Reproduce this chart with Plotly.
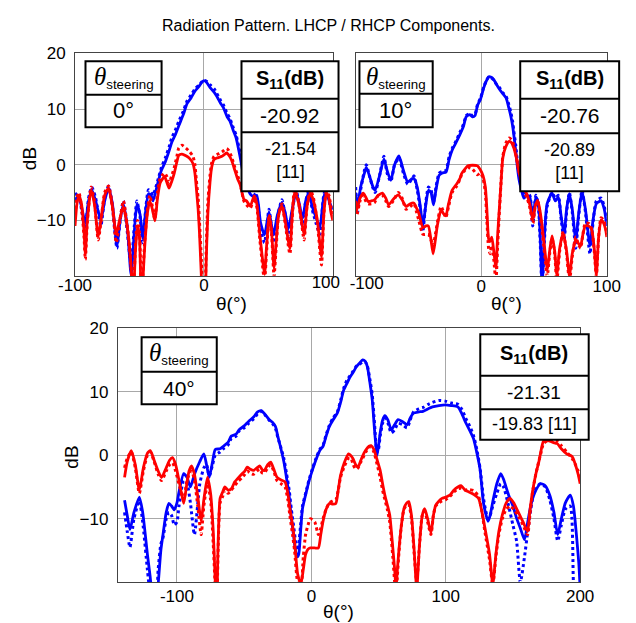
import plotly.graph_objects as go

# ---------------- data ----------------
# Panel 1 : steering 0 deg
p1_blue_theta = [-100, -97.5, -95, -92, -89.5, -87, -84, -80, -77, -74, -71, -67.5, -65, -62.5, -59.5, -56.5, -54, -52,
                 -49.5, -47.5, -45, -43, -41, -39.5, -36, -33, -30, -27, -25, -22, -19.5, -16, -13, -10, -7, -4, -2, 0,
                 2, 5, 8, 10, 13, 15, 18, 20, 23, 25, 28, 30, 33, 36, 39, 41, 44, 47, 50.5, 54, 57, 60.5, 63, 65.5,
                 68.5, 71.5, 74, 76.5, 79, 81.5, 84, 87, 90, 93.5, 96, 98.5, 100]
p1_blue_solid = [-6.5, -5.5, -7.5, -10.5, -6.5, -4.5, -6.5, -10, -6.5, -4.2, -7, -14.5, -10, -7.1, -11, -19.8, -12, -7.1,
                 -9, -13, -8, -5.2, -5.5, -6.5, -3.5, -1, 0.5, 2.5, 4, 5.5, 7, 9, 11, 12, 13.2, 14, 14.7, 15.1,
                 14.8, 13.8, 13, 12.3, 11, 10.3, 8.6, 7.9, 6, 4.8, 1.5, -1, -3.5, -5.3, -5.8, -5.5, -10.5, -12.6, -8.5,
                 -12.6, -9, -6.8, -8.5, -11.5, -8, -5, -7, -9.7, -6.5, -5, -7.5, -9.5, -11.2, -5.3, -5.8, -7.4, -8]
p1_blue_dot = [-5.5, -5, -8, -11.5, -6, -4, -6, -11, -6, -3.8, -7.5, -15, -10, -6.5, -12, -18, -11, -6.5,
               -9.5, -14, -7.5, -4.5, -5, -5.5, -3, -0.5, 1.2, 3.2, 4.8, 6.3, 7.8, 9.6, 11.5, 12.5, 13.6, 14.3, 14.8, 15.2,
               15.0, 14.3, 13.6, 12.8, 11.5, 10.8, 9.2, 8.4, 6.5, 5.3, 2.2, -0.5, -3, -4.8, -5.3, -6, -11.5, -14, -8,
               -14, -9.5, -6.3, -9, -13, -8.5, -4.5, -7.5, -11, -6.5, -4.6, -8, -10.5, -12.5, -5, -5.5, -8, -8.5]

p1_red_theta = [-100, -98.5, -97, -95, -93, -92, -90.5, -87.5, -85, -82, -80, -77, -74, -71, -68, -65.5, -62.5, -59, -56,
                -55, -53, -51.5, -50, -48.5, -46, -44, -42, -40, -38, -36, -34, -32, -30.5, -29, -27, -25, -23, -21,
                -19.5, -17, -14, -11, -8.5, -7, -6, -4.5, -3.5, -2, -1, 0, 1, 1.7, 3, 4.7, 6, 7.8, 10, 14, 17.6, 19,
                21.3, 24, 26.2, 28, 31, 33, 36, 39, 41, 43.4, 45, 47, 48.5, 50.7, 52.5, 54.4, 56, 58, 60.5, 63, 66.7,
                68.5, 70.3, 73, 75, 77.7, 80, 82.6, 85, 88, 91.2, 93, 95, 97, 98.5, 100]
p1_red_solid = [-11, -7, -5.5, -7, -12, -16, -10, -4.5, -7, -12.9, -10, -5.5, -4.2, -7.5, -12.5, -10, -7.5, -12, -20,
                -25, -15, -11, -13, -25, -15, -9, -6.5, -8, -10.1, -6, -3.3, -2.5, -2.1, -3, -4.2, -3, -1.5, 0.5,
                1.7, 1.9, 1.6, 1.1, 0.2, -1.5, -3.9, -8, -12, -20, -26, -30, -26, -18, -9, -3.2, -0.5, 0.9, 1.2, 1.5,
                2.1, 1.8, 0.9, -1, -2.6, -3.5, -6.2, -6.5, -7.4, -5.6, -7, -12.6, -16, -19.7, -15, -9.1, -12, -18.5,
                -14, -9, -7.4, -10, -15, -9, -5, -6.5, -9, -12.6, -7.5, -5, -6.5, -10, -16.5, -9, -5, -6, -8.5, -10]
p1_red_dot = [-9, -6, -5, -7.5, -13, -17, -10.5, -4, -6.5, -13.5, -10.5, -5, -3.8, -7.5, -14, -10.5, -6.5, -12, -20,
              -24, -14, -10, -12, -24, -14, -8.5, -5.5, -7.5, -9.8, -5, -2.5, -1.8, -1.5, -2, -3.2, -2, -0.5, 1.5,
              3, 3.5, 3, 2.3, 1.5, 0, -2.5, -6, -10, -17, -24, -30, -24, -16, -7, -2, 0.3, 1.5, 1.8, 2.3,
              2.9, 2.6, 1.5, -0.5, -2, -3.2, -6.5, -7.2, -7.8, -6, -7.5, -13.5, -17, -21, -16, -9, -12.5, -20,
              -15, -9, -7, -10.5, -16, -9.5, -4.5, -6, -9, -13.5, -7.5, -4.5, -6, -10.5, -18, -9, -4.8, -5.5, -7.5, -9]

# Panel 2 : steering 10 deg
p2_blue_theta = [-100, -98.5, -96, -93, -91.5, -89, -86.5, -84.5, -81, -77.5, -75, -72, -69, -65.5, -62, -58.5, -55,
                 -53.5, -51, -48.5, -46.5, -44, -42, -40, -38, -36, -33.5, -31, -28, -25.5, -23, -20, -17, -14, -12,
                 -9, -7, -5, -3, -0.5, 2, 4, 6, 8, 10, 12, 14.7, 17, 19.8, 22, 23.5, 25, 26, 27.5, 28.6, 30, 32, 34,
                 36, 38.7, 41, 43.5, 45.5, 47, 48.5, 50, 52.5, 56.4, 59, 61.4, 63.5, 66, 68, 70.2, 72.5, 75.3, 77.5,
                 80.3, 83, 86.6, 89, 91.7, 95.5, 98, 100]
p2_blue_solid = [-5, -7.5, -4, -1.5, -0.5, -2, -3.8, -4.6, -2, 1, -1, -2.8, 0, 1.6, -1, -3.1, -2.5,
                 -2.5, -4, -7.5, -11, -7, -4.6, -5, -7.2, -4.5, -1.9, -1.5, -1.3, 1, 2.7, 4, 5.4, 7, 8.6,
                 9, 8.6, 8.8, 10.6, 11.8, 13.8, 15, 15.8, 15.7, 15.3, 14.5, 13.5, 12.8, 12, 10.2, 8.8, 7, 5.3, 2.5, 0,
                 -2.5, -4.5, -6, -5.5, -5.8, -10, -5.8, -7, -13, -22, -14, -7, -5.1, -6.5, -5.8, -9, -12.5, -8, -5.2,
                 -8, -13.5, -9, -4.8, -8, -14.5, -10, -7, -6.5, -8, -11]
p2_blue_dot = [-4, -8.5, -4.5, -1, 0, -2, -4, -5, -2, 1.5, -1.5, -3, 0, 1.2, -1.5, -3.5, -2.5,
               -2, -4.5, -8, -12, -6.5, -4, -4.5, -6.8, -4, -1.5, -1.2, -1, 1.5, 3, 4.3, 5.8, 7.3, 8.8,
               9.2, 8.8, 9, 10.8, 12, 14, 15, 15.8, 15.6, 15.2, 14.5, 13.8, 13, 12.3, 10.8, 9.5, 7.8, 6, 3.5, 1,
               -1.5, -4, -5.5, -5, -5.5, -11, -5.5, -7.5, -14, -23, -15, -7.5, -5, -6, -5.5, -9.5, -13.5, -8.5, -5,
               -8.5, -15, -9.5, -4.6, -8.5, -16, -10.5, -6.5, -6, -7.5, -10]

p2_red_theta = [-100, -99, -96.5, -93.9, -92, -90.1, -87.5, -85, -82, -78.7, -76, -73.7, -70, -66.1, -63, -59.8, -56.5,
                -53.5, -51.5, -49.7, -46.4, -44, -42.1, -40, -38.3, -36.5, -35, -32, -30, -28.2, -26, -23.2, -19.4,
                -17, -15.6, -13, -10.6, -7, -3, -0.5, 1.5, 3.3, 4.5, 5.9, 7, 8.4, 10, 11.7, 13, 14.2, 15.7, 17.2,
                19.5, 22.3, 24, 26, 28, 29.9, 32, 34, 36.2, 38.5, 41.2, 43, 45, 47, 48.8, 50.5, 52.6, 54.5, 56.4,
                58.5, 60.2, 62.5, 65.2, 68, 70.3, 72.5, 75.3, 77, 79.1, 81, 82.9, 85.5, 87.9, 90, 91.7, 93.5, 95.5,
                97.5, 99.3, 100]
p2_red_solid = [-6.5, -8.1, -6, -5.1, -5.8, -6.6, -6.5, -6.3, -5.5, -5.1, -6, -7.2, -6.2, -5.4, -6.3, -7.5, -7,
                -6.9, -7.8, -8.7, -11.3, -11, -11, -13.5, -16, -13.5, -11, -8.1, -8.8, -9.2, -7, -4.6, -3.4,
                -2.5, -1.6, -0.8, -0.2, -0.1, -0.2, -1, -2, -4, -8, -13.3, -13.8, -13, -15.5, -18.6, -13, -8.7, -3.5, 1.2,
                3.2, 4.2, 4, 3, 1.2, -1.1, -3, -4.5, -5.2, -7, -9.9, -7.5, -6.4, -8.5, -11.6, -15, -19, -15.5, -12.8,
                -15.5, -19.8, -15, -12.2, -15.5, -20, -16, -13.4, -14, -14.6, -12.5, -11, -11, -11.6, -15, -19.8, -13, -9.9,
                -10.5, -11.9, -13]
p2_red_dot = [-7, -9, -6.5, -5.5, -6.5, -7, -7, -6.8, -5.5, -5.5, -6.5, -7.5, -6.5, -5, -6, -8, -7.5,
              -7, -8.5, -10, -12.5, -12.5, -12.5, -13.5, -14.5, -12.5, -10.5, -7.5, -8.5, -9.5, -7.5, -5, -3.8,
              -2.6, -1.8, -1, -0.5, -0.8, -1.8, -1.5, -2.5, -5, -10, -15, -16, -14.5, -17, -21, -15, -9.5, -3.5, 1.5,
              3.8, 4.8, 4.5, 3.5, 1.5, -1, -3.2, -4.8, -5.8, -7.5, -10.5, -7.5, -6.5, -9, -12.5, -16, -20, -16, -13.2,
              -16, -21, -15.5, -12, -16, -21, -16.5, -13, -14, -15, -12.5, -10.5, -10.5, -11.5, -15.5, -20, -13, -9.5,
              -10, -11.5, -12.5]

# Panel 3 : steering 40 deg
p3_blue_theta = [-139, -137, -135, -132, -128, -125.5, -122, -120, -118.5, -116, -114, -112, -110.4, -108, -106, -104,
                 -102, -100, -98.5, -95, -92.5, -90, -87, -83, -80, -78, -76, -73.5, -71.5, -68, -65.5, -62, -59.6,
                 -56, -53.7, -50, -46.7, -43, -40, -37.3, -34, -31.4, -29, -26.7, -25, -23.1, -20.5, -18.4, -16.5,
                 -14.9, -13, -11.8, -10.5, -9.4, -8, -6.6, -4, -1.9, 1, 4, 6.5, 8.7, 11, 13.4, 16, 19.3, 22, 24,
                 26.5, 28.8, 31, 33.5, 36, 38.2, 40, 41.7, 43.5, 45.3, 47, 48.8, 50, 51.2, 53, 54.7, 57, 59.4, 62,
                 64.5, 67.7, 71.3, 73.5, 76, 80, 83.1, 87, 90.1, 95, 99.6, 104, 109, 112, 114.9, 118, 120.8, 123,
                 125.5, 127.9, 129.5, 131.4, 133, 135, 138, 140.9, 143, 146.8, 150, 152.7, 155.5, 158.6, 161, 163.3,
                 166, 170.4, 174, 177.4, 180.5, 183.3, 186, 189, 192.6, 195, 197, 199, 200]
p3_blue_solid = [-7.1, -9.5, -11.7, -9, -6.6, -9, -15.6, -19, -22, -24, -20.3, -15, -12.5, -9, -7.6, -8,
                 -8.6, -7.5, -5.8, -2.9, -3.5, -5, -3, -1, 0.2, -1.5, -3.5, -1, 0.9, 1, 1.4, 2, 3,
                 3.3, 4, 4.6, 5.3, 6, 6.8, 7, 6.3, 5.6, 5.2, 4.5, 3, 1.4, -1, -3.7, -6.5,
                 -9.9, -13, -15.1, -16, -15.6, -12, -8.4, -6, -4.2, -2.2, -0.4, 0.8, 1.4, 3, 4.5, 5.5, 6.6, 8.5, 10.2,
                 11.3, 12.3, 13, 13.9, 14.5, 15, 14.8, 13.9, 11.5, 8.7, 4, -0.1, 1.5, 3.5, 5.5, 6.2, 5.5, 4, 4.8,
                 5.6, 5.3, 4.8, 5.8, 6.6, 6.8, 6.9, 7.3, 7.6, 7.8, 7.9, 7.8, 7.6, 6.5, 5.1, 3.8, 2.5, 0.5,
                 -2.2, -7.3, -9, -10.4, -9.5, -7.3, -4.5, -2.9, -3.8, -6.3, -8, -9.9, -11.5, -13.3, -10.5, -7.9,
                 -6, -4.5, -4.8, -6.3, -9, -12.5, -10, -7.5, -6.3, -8, -12, -17, -21]
p3_blue_dot = [-9, -12, -14.5, -10, -7.2, -10.5, -18, -22, -24, -24, -18, -14, -13, -10, -9, -9.5,
               -11, -10.5, -8, -4, -4.5, -7.5, -12.5, -4.5, -2, -1.5, -3.3, -1.5, 0, 0.5, 1, 1.6, 2.6,
               3, 3.8, 4.3, 5, 5.7, 6.5, 6.9, 6.2, 5.5, 5, 4.2, 2.8, 1.5, -0.5, -3, -5.5,
               -8.5, -11.5, -13.5, -15, -14, -11, -8, -5.8, -4, -2, -0.2, 1, 1.6, 3.2, 4.7, 5.8, 6.8, 8.8, 10.5,
               11.8, 12.5, 13.2, 14, 14.3, 14.7, 14.7, 14, 12, 9.5, 5, 0.5, 1, 3, 5, 5.8, 5, 3.5, 4,
               5, 4.8, 4.3, 5.5, 6.8, 7.3, 7.5, 8, 8.3, 8.6, 8.5, 8.2, 8, 7.2, 5.8, 4.5, 3, 1,
               -2, -6.5, -8.5, -10, -9.5, -8, -6, -4.5, -5, -8, -11, -13.5, -20, -16, -12, -8.5,
               -5.5, -4.5, -5, -7, -10, -13.5, -11, -8.5, -8, -20, -25, -26, -26]

p3_red_theta = [-139, -137, -134, -131, -128, -125, -122, -119.8, -117, -114, -111.5, -108, -105.5, -103.3, -101, -98,
                -95, -93, -91, -89.1, -87, -84.5, -82, -80, -77.3, -75, -73, -71.5, -70.5, -69.5, -67.9, -66, -64.4,
                -62, -59.6, -57, -54.9, -51.4, -49.5, -47.8, -45.5, -43.1, -40.5, -38.5, -36.5, -34.9, -32.5, -30.2,
                -28, -25.5, -22.5, -19.6, -17.5, -16, -14, -12.5, -10.2, -7.8, -6, -4.3, -2.5, -0.7, 2.5, 5.2, 7,
                8.7, 11, 13.4, 16, 18.2, 20, 21.7, 24.5, 27.6, 29.5, 31.1, 33, 34.7, 36.5, 38.2, 40.5, 42.9, 44.5,
                46.5, 49, 51.2, 53, 54.7, 56.5, 58.3, 60.6, 62, 63, 64, 65.3, 67, 68.9, 71, 72.5, 74.5, 76.5, 78.4,
                80.5, 82.5, 84.3, 86.5, 89, 90.8, 92.5, 95, 97.2, 100, 103.1, 106, 109, 111.4, 114.5, 117.3, 121,
                124.4, 127, 129.1, 132.6, 135, 137.3, 139.5, 142.1, 145, 147.9, 150.5, 153.8, 157.5, 160.9, 162.5,
                164.5, 167, 169.2, 171, 172.7, 176, 179.8, 183, 186, 190, 194, 196.5, 198.5, 200]
p3_red_solid = [-3.5, -1, 0.7, -1.5, -5.5, -2, 0.3, 0.7, -0.8, -2.5, -3.5, -2, -0.8, -0.4, -1.5, -4.5,
                -7.6, -5, -2.5, -1.7, -3, -6.5, -10.4, -7, -3.5, -6, -12, -20, -25, -15, -6.8, -5.8, -5,
                -5.5, -5.3, -4.2, -3.7, -2.9, -2.5, -1.9, -2.2, -2.4, -2, -1.7, -2.3, -2.4, -1.5, -1.1,
                -2.2, -3.5, -3.9, -4.2, -6, -8.4, -11, -13.5, -18.7, -20.3, -18, -15.6, -14.8, -14.6, -14.6, -14.6, -12.5,
                -10.4, -8.5, -7.6, -7.7, -7.6, -5.5, -3.2, -1.2, 0.2, -0.1, -0.6, -1.5, -1.9, -1, -0.1, 0.8, 1.4, 1.5,
                0.9, -0.8, -2.4, -4.5, -6.3, -7.8, -9.4, -14.6, -18, -21, -18, -14.6, -11, -8.4, -7.5, -7.3, -9.5, -15, -21,
                -14, -9.5, -8.4, -10, -12.2, -9.5, -7.9, -7.2, -6.8, -6.6, -6.3, -5.5, -5, -4.8, -5.5, -5.8, -6.2,
                -6.8, -9, -11.4, -15.6, -20.3, -15.6, -12, -9.4, -7.5, -6.8, -7.5, -8.9, -10.5, -12, -9,
                -5.8, -3, -1.1, 0.8, 2.2, 2.3, 2, 1.8, 1, 0.2, -0.2, -1.5, -3, -4.5]
p3_red_dot = [-2, -0.5, 0.5, -2, -6, -2.5, 0, 0.5, -1, -3, -4, -2.5, -1.5, -1.2, -2.5, -5,
              -7, -4.5, -3, -2.5, -4, -8, -12.5, -8, -4.5, -7, -14, -21, -26, -16, -7.5, -6.5, -5.5,
              -6, -5.5, -4.8, -4.2, -3.5, -3, -2.5, -2.8, -3, -2.5, -2.2, -2.8, -2.8, -2, -1.5,
              -2.5, -4, -4.5, -5, -7, -9.5, -12.5, -15, -20, -21, -16, -12.5, -11, -10, -10.5, -12.5, -11.5,
              -10, -8.5, -7.5, -7.2, -7, -5.5, -3.5, -1.8, -0.5, -0.5, -1.5, -2.2, -2, -1.2, -0.5, 0.5, 1.2, 1.3,
              0.5, -1.5, -3.5, -5.5, -7, -8.5, -10.5, -16, -20, -22, -19, -15, -11, -8.5, -7.8, -7.8, -10, -15.5, -20,
              -14, -9.5, -8.8, -10.5, -12.5, -9.5, -8, -7.5, -7.2, -7, -6.5, -5.8, -5.3, -5.2, -5.5, -5.4, -5.6,
              -6.5, -9, -12, -16.5, -20.5, -16, -12.5, -10, -8.5, -8, -8.5, -9.5, -11, -12.5, -9.5,
              -6, -3, -1, 0.5, 1.8, 2.3, 2.3, 2.2, 1.5, 0.5, -0.5, -1.5, -2.5, -4]

panels = [
    dict(theta_b=p1_blue_theta, blue=p1_blue_solid, blue_d=p1_blue_dot,
         theta_r=p1_red_theta, red=p1_red_solid, red_d=p1_red_dot),
    dict(theta_b=p2_blue_theta, blue=p2_blue_solid, blue_d=p2_blue_dot,
         theta_r=p2_red_theta, red=p2_red_solid, red_d=p2_red_dot),
    dict(theta_b=p3_blue_theta, blue=p3_blue_solid, blue_d=p3_blue_dot,
         theta_r=p3_red_theta, red=p3_red_solid, red_d=p3_red_dot),
]

x_ticks_top_inner = [-100, 0, 100]
x_ticks_bottom = [-100, 0, 100, 200]
y_ticks = [20, 10, 0, -10]
steering_labels = ["0°", "10°", "40°"]
s11_values = ["-20.92", "-20.76", "-21.31"]
s11_refs = ["-21.54<br>[11]", "-20.89<br>[11]", "-19.83 [11]"]
title_text = "Radiation Pattern. LHCP / RHCP Components."

# ---------------- layout helpers ----------------
W, H = 636, 623
def px(x):
    return x / W
def py(y):
    return 1 - y / H

FONT = "Liberation Sans, Arial, sans-serif"
BLUE = "#0000ff"
RED = "#ff0000"

fig = go.Figure()
axis_ids = [("x", "y"), ("x2", "y2"), ("x3", "y3")]
for (xa, ya), p in zip(axis_ids, panels):
    common = dict(xaxis=xa, yaxis=ya, mode="lines", showlegend=False, hoverinfo="skip")
    fig.add_trace(go.Scatter(x=p["theta_b"], y=p["blue_d"], line=dict(color=BLUE, width=3, dash="dot", shape="spline", smoothing=0.6), **common))
    fig.add_trace(go.Scatter(x=p["theta_b"], y=p["blue"], line=dict(color=BLUE, width=2.8, shape="spline", smoothing=0.6), **common))
    fig.add_trace(go.Scatter(x=p["theta_r"], y=p["red_d"], line=dict(color=RED, width=3, dash="dot", shape="spline", smoothing=0.6), **common))
    fig.add_trace(go.Scatter(x=p["theta_r"], y=p["red"], line=dict(color=RED, width=2.8, shape="spline", smoothing=0.6), **common))

# empty helper traces so the overlay label axes are drawn
fig.add_trace(go.Scatter(x=[], y=[], xaxis="x4", yaxis="y", showlegend=False, hoverinfo="skip"))
fig.add_trace(go.Scatter(x=[], y=[], xaxis="x5", yaxis="y2", showlegend=False, hoverinfo="skip"))

def xaxis_cfg(dom, rng, ticks, anchor, standoff):
    return dict(domain=dom, range=rng, tickvals=ticks, ticktext=[str(t) for t in ticks], anchor=anchor,
                showgrid=True, gridcolor="#a8a8a8", gridwidth=1, zeroline=False,
                showline=True, linecolor="#444444", linewidth=1, mirror=True,
                ticks="", ticklabelstandoff=standoff,
                tickfont=dict(family=FONT, size=17, color="black"))

def overlay_xaxis(dom, rng, ticks, anchor, over, standoff, shift):
    return dict(domain=dom, range=rng, tickvals=ticks, ticktext=[str(t) for t in ticks], anchor=anchor,
                overlaying=over, showgrid=False, zeroline=False, showline=False,
                ticks="", ticklabelstandoff=standoff, ticklabelshift=shift,
                tickfont=dict(family=FONT, size=17, color="black"))

def yaxis_cfg(dom, anchor, labels=True):
    return dict(domain=dom, range=[-20, 20], tickvals=y_ticks if labels else [10, 0, -10],
                showticklabels=labels, anchor=anchor,
                showgrid=True, gridcolor="#a8a8a8", gridwidth=1, zeroline=False,
                showline=True, linecolor="#444444", linewidth=1, mirror=True,
                ticks="", ticklabelstandoff=5,
                tickfont=dict(family=FONT, size=17, color="black"))

p1_dom = [px(61), px(332)]
p2_dom = [px(356), px(620)]

fig.update_layout(
    width=W, height=H, margin=dict(l=0, r=0, t=0, b=0),
    paper_bgcolor="white", plot_bgcolor="white",
    xaxis=xaxis_cfg(p1_dom, [-100, 100], x_ticks_top_inner[:2], "y", -6),
    xaxis4=overlay_xaxis(p1_dom, [-100, 100], x_ticks_top_inner[2:], "y", "x", -6, -7),
    yaxis=yaxis_cfg([py(271), py(45)], "x"),
    xaxis2=xaxis_cfg(p2_dom, [-100, 100], x_ticks_top_inner[1:], "y2", -5),
    xaxis5=overlay_xaxis(p2_dom, [-100, 100], x_ticks_top_inner[:1], "y2", "x2", -5, 11),
    yaxis2=yaxis_cfg([py(271), py(45)], "x2", labels=False),
    xaxis3=xaxis_cfg([px(106), px(592)], [-144, 200], x_ticks_bottom, "y3", -2),
    yaxis3=yaxis_cfg([py(581.7), py(323.7)], "x3"),
)
# keep vertical gridlines at the panel edges for the top panels
fig.layout.xaxis.tickvals = [-100, 0]
fig.layout.xaxis2.tickvals = [0, 100]

shapes = []
annots = []

def ann(x, y, text, size, angle=0):
    annots.append(dict(x=px(x), y=py(y), xref="paper", yref="paper", text=text, showarrow=False,
                       xanchor="center", yanchor="middle", textangle=angle,
                       font=dict(family=FONT, size=size, color="black")))

def box(x0, y0, x1, y1, dividers):
    shapes.append(dict(type="rect", xref="paper", yref="paper", x0=px(x0), x1=px(x1), y0=py(y1), y1=py(y0),
                       fillcolor="white", line=dict(color="black", width=2), layer="above"))
    for d in dividers:
        shapes.append(dict(type="line", xref="paper", yref="paper", x0=px(x0), x1=px(x1), y0=py(d), y1=py(d),
                           line=dict(color="black", width=2), layer="above"))

theta_hdr = "<span style='font-family:Liberation Serif;font-style:italic;font-size:25px'>θ</span><sub>steering</sub>"
s11_hdr = "<b>S<sub>11</sub>(dB)</b>"

# panel 1 tables
box(72, 53, 152, 120, [87])
ann(112, 70, theta_hdr, 19)
ann(112, 103, steering_labels[0], 22)
box(236, 53, 338, 185, [91, 125])
ann(287, 72, s11_hdr, 20)
ann(287, 108, s11_values[0], 21)
ann(287, 154, s11_refs[0], 18)

# panel 2 tables
box(360, 53, 437, 120, [86])
ann(398, 70, theta_hdr, 19)
ann(398, 103, steering_labels[1], 22)
box(529, 53, 633, 185, [91, 126])
ann(581, 72, s11_hdr, 20)
ann(581, 108, s11_values[1], 21)
ann(581, 155, s11_refs[1], 18)

# panel 3 tables
box(131, 333, 210, 401, [368])
ann(170, 350, theta_hdr, 19)
ann(170, 385, steering_labels[2], 21)
box(487, 330, 601, 437, [372, 406])
ann(544, 351, s11_hdr, 20)
ann(544, 389, s11_values[2], 19)
ann(544, 421, s11_refs[2], 18)

# titles & axis labels
ann(327, 17, title_text, 16)
ann(13, 152, "dB", 19, angle=-90)
ann(225, 299, "θ(°)", 19)
ann(515, 299, "θ(°)", 19)
ann(57, 455, "dB", 19, angle=-90)
ann(338, 611, "θ(°)", 19)

fig.update_layout(shapes=shapes, annotations=annots)
fig.write_html("out.html")
